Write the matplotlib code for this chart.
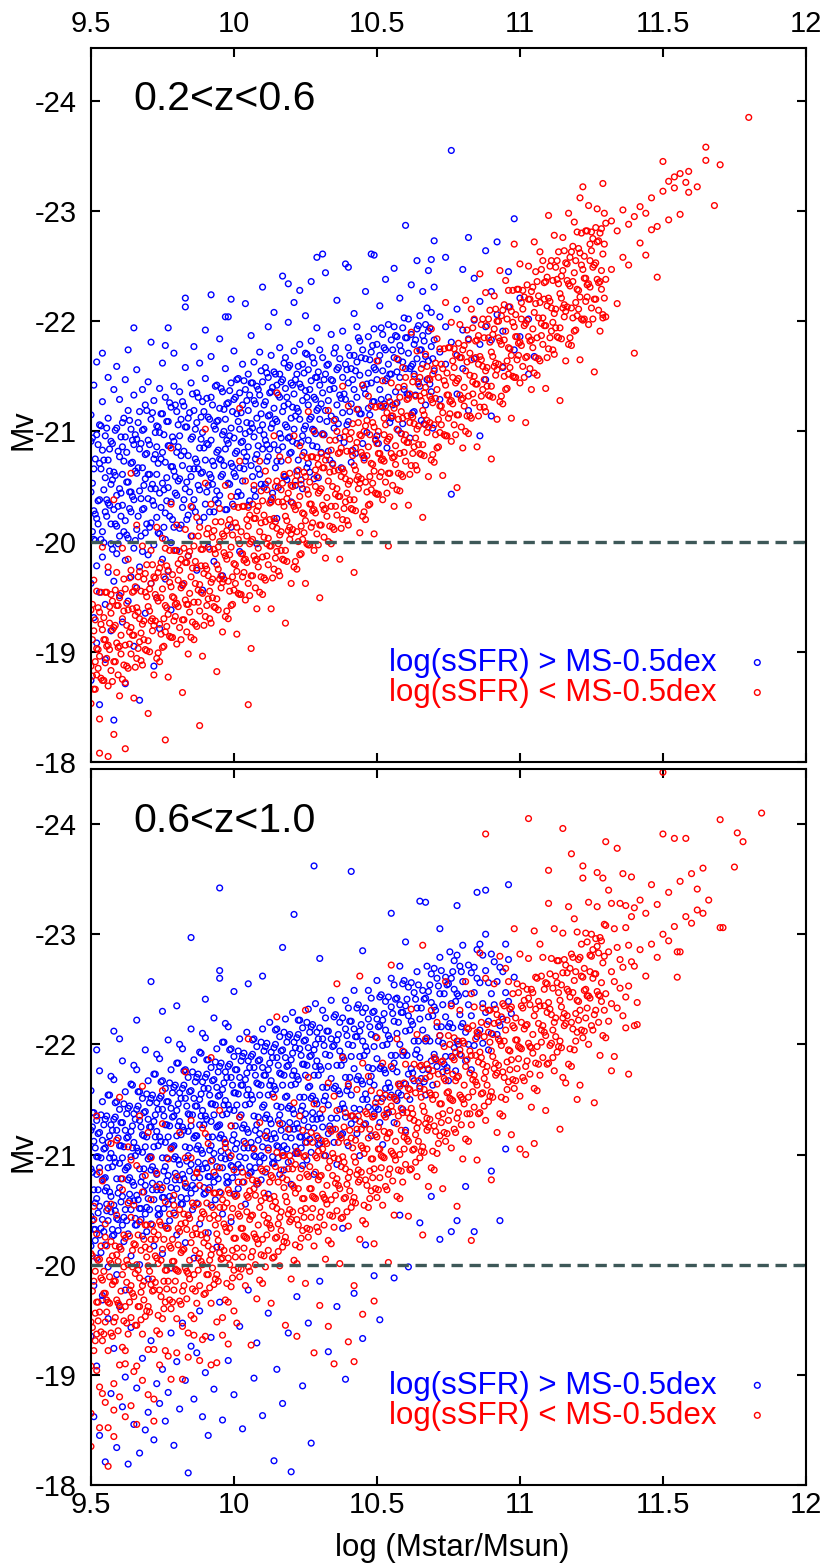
import matplotlib
matplotlib.use('Agg')
import matplotlib.pyplot as plt

plt.rcParams['font.family'] = ['Liberation Sans', 'DejaVu Sans']
plt.rcParams['axes.unicode_minus'] = False

x_ticks = [9.5, 10, 10.5, 11, 11.5, 12]
x_tick_labels = ['9.5', '10', '10.5', '11', '11.5', '12']
y_ticks = [-24, -23, -22, -21, -20, -19, -18]
y_tick_labels = ['-24', '-23', '-22', '-21', '-20', '-19', '-18']
panel_labels = ['0.2<z<0.6', '0.6<z<1.0']
series_labels = ['log(sSFR) > MS-0.5dex', 'log(sSFR) < MS-0.5dex']
x_label = 'log (Mstar/Msun)'
y_label = 'Mv'
mv_limit = -20

# (log Mstar, [Mv, ...]) columns
top_sf = [
(9.50,[-20.45,-19.62,-21.15,-18.74,-20.91]),(9.51,[-20.66,-19.31,-21.42,-20.02,-20.28]),
(9.52,[-20.21,-20.97,-19.78,-21.63,-19.08]),(9.53,[-20.38,-21.06,-19.54,-20.71,-18.52]),
(9.54,[-20.83,-20.09,-21.27,-19.86,-21.71]),(9.55,[-20.58,-19.43,-20.96,-20.27,-18.93]),
(9.56,[-21.12,-20.35,-19.72,-20.74,-21.49]),(9.57,[-20.16,-20.91,-19.98,-20.52,-19.19]),
(9.58,[-20.63,-21.38,-19.64,-20.29,-18.38]),(9.59,[-20.42,-21.03,-19.89,-21.59,-20.14]),
(9.60,[-20.77,-20.05,-19.51,-21.29,-20.48]),(9.61,[-20.33,-20.86,-19.27,-21.08,-20.61]),
(9.62,[-20.95,-20.19,-21.47,-19.83,-18.71]),(9.63,[-20.54,-21.19,-20.03,-19.46,-21.74]),
(9.64,[-20.71,-20.27,-21.02,-19.68,-20.45]),(9.65,[-20.38,-21.33,-20.88,-19.94,-19.05,-21.94]),
(9.66,[-20.62,-20.11,-21.56,-20.93,-19.58]),(9.67,[-20.84,-20.46,-21.18,-19.77,-18.56]),
(9.68,[-20.29,-21.01,-20.67,-19.91,-21.38]),(9.69,[-20.57,-21.24,-20.08,-19.35,-20.79]),
(9.70,[-20.92,-20.39,-21.45,-19.88,-20.61]),(9.71,[-20.48,-21.11,-20.17,-19.62,-21.81]),
(9.72,[-20.75,-20.33,-21.28,-19.97,-18.87]),(9.73,[-20.61,-21.05,-20.22,-19.49,-20.86]),
(9.74,[-20.99,-20.44,-21.39,-20.07,-19.21]),(9.75,[-20.53,-21.16,-20.81,-19.84,-21.62]),
(9.76,[-20.72,-20.26,-21.31,-20.02,-19.66,-21.78]),(9.77,[-20.87,-20.49,-21.09,-19.73,-21.94]),
(9.78,[-20.36,-21.22,-20.68,-19.99,-19.38]),(9.79,[-20.64,-21.41,-20.13,-20.91,-21.71]),
(9.80,[-20.81,-20.42,-21.18,-19.92]),(9.81,[-20.96,-20.57,-21.36,-20.12]),
(9.82,[-20.69,-21.27,-20.31,-19.61]),(9.83,[-21.04,-20.48,-21.58,-22.21,-22.13]),
(9.84,[-20.78,-20.24,-21.12,-19.87]),(9.85,[-20.93,-21.44,-20.59,-20.05]),
(9.86,[-20.66,-21.19,-20.38,-21.77]),(9.87,[-21.08,-20.72,-21.35,-19.74]),
(9.88,[-20.85,-20.47,-21.62,-20.18]),(9.89,[-20.99,-21.27,-20.63,-19.56]),
(9.90,[-20.74,-21.48,-20.34,-21.92]),(9.91,[-21.13,-20.88,-20.51,-19.95]),
(9.92,[-20.92,-21.31,-20.58,-21.68,-22.24]),(9.93,[-21.05,-20.69,-20.27,-19.82]),
(9.94,[-20.81,-21.42,-21.09,-20.46]),(9.95,[-21.21,-20.75,-20.42,-21.84]),
(9.96,[-20.97,-21.36,-20.61,-19.69]),(9.97,[-21.11,-20.84,-21.57,-20.29,-22.04]),
(9.98,[-20.89,-21.26,-20.53,-22.04]),(9.99,[-21.03,-20.71,-21.44,-20.13,-22.20]),
(10.00,[-20.94,-21.29,-20.62,-21.73]),(10.01,[-21.16,-20.82,-21.47,-20.41]),
(10.02,[-21.02,-20.67,-21.35,-19.91]),(10.03,[-21.24,-20.91,-21.61,-20.55]),
(10.04,[-20.98,-21.38,-20.73,-22.16]),(10.05,[-21.19,-20.86,-21.52,-20.33]),
(10.06,[-21.07,-21.44,-20.69,-21.87]),(10.07,[-21.28,-20.95,-21.63,-20.47]),
(10.08,[-21.12,-20.79,-21.41,-19.98]),(10.09,[-21.33,-21.01,-21.72,-20.61]),
(10.10,[-21.06,-21.45,-20.84,-22.31]),(10.11,[-21.27,-20.92,-21.58,-20.52]),
(10.12,[-21.14,-21.49,-20.77,-21.95]),(10.13,[-21.36,-21.03,-21.69,-20.38]),
(10.14,[-21.21,-20.88,-21.54,-22.08]),(10.15,[-21.09,-21.42,-20.73,-20.21]),
(10.16,[-21.31,-20.98,-21.76,-21.52]),(10.17,[-21.18,-21.47,-20.86,-22.41]),
(10.18,[-21.39,-21.06,-21.67,-20.59]),(10.19,[-21.25,-20.94,-21.58,-21.99,-22.34]),
(10.20,[-21.12,-21.44,-20.81,-20.36]),(10.21,[-21.34,-21.02,-21.73,-22.17]),
(10.22,[-21.21,-21.52,-20.89,-20.64]),(10.23,[-21.43,-21.11,-21.79,-22.28]),
(10.24,[-21.28,-20.96,-21.61,-20.48]),(10.25,[-21.37,-21.05,-21.71,-22.05]),
(10.26,[-21.24,-21.56,-20.92,-20.71]),(10.27,[-21.46,-21.13,-21.82,-22.36]),
(10.28,[-21.31,-21.62,-21.01,-20.57]),(10.29,[-21.19,-21.49,-20.86,-21.94,-22.58]),
(10.30,[-21.42,-21.11,-21.74]),(10.31,[-21.35,-21.67,-20.98,-22.61]),
(10.32,[-21.52,-21.19,-22.44]),(10.33,[-21.28,-21.61,-20.82]),
(10.34,[-21.47,-21.14,-21.88]),(10.35,[-21.39,-21.71,-21.03]),
(10.36,[-21.56,-21.24,-22.19]),(10.37,[-21.33,-21.66,-20.94]),
(10.38,[-21.49,-21.17,-21.91]),(10.39,[-21.61,-21.29,-22.52]),
(10.40,[-21.44,-21.76,-21.09,-22.49]),(10.41,[-21.57,-21.25,-20.72]),
(10.42,[-21.38,-21.69,-22.07]),(10.43,[-21.63,-21.31,-21.95]),
(10.44,[-21.51,-21.82,-21.16]),(10.45,[-21.42,-21.74,-20.89]),
(10.46,[-21.66,-21.34,-22.27]),(10.47,[-21.53,-21.86,-21.21]),
(10.48,[-21.72,-21.44,-22.61]),(10.49,[-21.58,-21.27,-21.93,-22.60]),
(10.50,[-21.47,-21.79,-20.96]),(10.51,[-21.69,-21.38,-22.14]),
(10.52,[-21.55,-21.88,-21.22]),(10.53,[-21.74,-21.46,-22.38]),
(10.54,[-21.61,-21.31,-21.97]),(10.55,[-21.83,-21.52,-21.12]),
(10.56,[-21.67,-21.95,-22.48]),(10.57,[-21.54,-21.86,-21.26]),
(10.58,[-21.78,-21.49,-22.21]),(10.59,[-21.63,-21.94,-21.07]),
(10.60,[-21.85,-21.57,-22.87]),(10.61,[-21.71,-22.02,-21.33]),
(10.62,[-21.59,-21.88,-22.33]),(10.63,[-21.79,-21.52,-21.18]),
(10.64,[-21.93,-21.66,-22.55]),(10.65,[-21.74,-22.05,-21.41]),
(10.66,[-21.87,-21.61,-22.27]),(10.67,[-21.68,-21.97,-21.24]),
(10.68,[-21.91,-21.64,-22.46]),(10.69,[-21.77,-22.08,-21.36,-22.56]),
(10.70,[-21.83,-21.55,-22.31,-22.73]),(10.72,[-21.72,-22.04,-21.29]),
(10.74,[-21.95,-21.61,-22.58]),(10.76,[-21.81,-23.55,-20.43]),
(10.78,[-21.69,-22.11,-21.34]),(10.80,[-21.92,-21.57,-22.47]),
(10.82,[-21.84,-22.76,-21.19]),(10.84,[-22.01,-21.66,-22.39]),
(10.86,[-21.79,-22.18,-20.96]),(10.88,[-21.95,-22.64,-21.47]),
(10.90,[-21.83,-22.27,-21.14]),(10.92,[-22.06,-22.72]),
(10.94,[-21.91,-21.58]),(10.96,[-22.13,-22.45]),
(10.98,[-21.74,-22.93]),(11.00,[-21.86,-22.21]),
(11.03,[-22.02,-21.52]),(11.05,[-21.68]),
]

top_sf_dense = [
(9.505,[-20.53,-20.09,-20.94]),(9.515,[-20.25,-20.75,-20.01]),(9.525,[-20.88,-20.37,-20.16]),
(9.535,[-20.02,-20.66,-21.05]),(9.545,[-20.74,-19.99,-20.47]),(9.555,[-20.38,-21.03,-20.23]),
(9.565,[-20.84,-20.33,-20.64]),(9.575,[-19.93,-20.56,-20.89]),(9.585,[-20.60,-20.16,-21.01]),
(9.595,[-20.32,-20.82,-19.98]),(9.605,[-20.95,-20.44,-20.23]),(9.615,[-20.09,-20.73,-21.12]),
(9.625,[-20.81,-20.06,-20.54]),(9.635,[-20.45,-21.10,-20.30]),(9.645,[-20.92,-20.41,-20.72]),
(9.655,[-20.01,-20.64,-20.97]),(9.665,[-20.67,-20.23,-21.08]),(9.675,[-20.39,-20.89,-20.05]),
(9.685,[-21.02,-20.51,-20.30]),(9.695,[-20.16,-20.80,-21.19]),(9.705,[-20.88,-20.13,-20.61]),
(9.715,[-20.52,-21.17,-20.37]),(9.725,[-20.99,-20.48,-20.79]),(9.735,[-20.08,-20.71,-21.04]),
(9.745,[-20.75,-20.31,-21.16]),(9.755,[-20.47,-20.97,-20.13]),(9.765,[-21.09,-20.58,-20.37]),
(9.775,[-20.23,-20.87,-21.26]),(9.785,[-20.95,-20.20,-20.68]),(9.795,[-20.59,-21.24,-20.44]),
(9.805,[-21.06,-20.55,-20.86]),(9.815,[-20.15,-20.78,-21.11]),(9.825,[-20.82,-20.38,-21.23]),
(9.835,[-20.54,-21.04,-20.20]),(9.845,[-21.17,-20.66,-20.45]),(9.855,[-20.31,-20.95,-21.34]),
(9.865,[-21.02,-20.27,-20.75]),(9.875,[-20.66,-21.31,-20.51]),(9.885,[-21.13,-20.62,-20.93]),
(9.895,[-20.22,-20.85,-21.18]),(9.905,[-20.89,-20.45,-21.30]),(9.915,[-20.61,-21.11,-20.27]),
(9.925,[-21.24,-20.73,-20.52]),(9.935,[-20.38,-21.02,-21.41]),(9.945,[-21.10,-20.35,-20.83]),
(9.955,[-20.74,-21.39,-20.59]),(9.965,[-21.20,-20.69,-21.00]),(9.975,[-20.29,-20.92,-21.25]),
(9.985,[-20.96,-20.52,-21.37]),(9.995,[-20.68,-21.18,-20.34]),(10.005,[-21.31,-20.80,-20.59]),
(10.015,[-20.45,-21.09,-21.48]),(10.025,[-21.17,-20.42,-20.90]),(10.035,[-20.81,-21.46,-20.66]),
(10.045,[-21.28,-20.77,-21.08]),(10.055,[-20.37,-21.00,-21.33]),(10.065,[-21.03,-20.59,-21.44]),
(10.075,[-20.75,-21.25,-20.41]),(10.085,[-21.38,-20.87,-20.66]),(10.095,[-20.52,-21.16,-21.55]),
(10.105,[-21.24,-20.49,-20.97]),(10.115,[-20.88,-21.53,-20.73]),(10.125,[-21.35,-20.84,-21.15]),
(10.135,[-20.44,-21.07,-21.40]),(10.145,[-21.11,-20.67,-21.52]),(10.155,[-20.83,-21.33,-20.49]),
(10.165,[-21.45,-20.94,-20.73]),(10.175,[-20.59,-21.23,-21.62]),(10.185,[-21.31,-20.56,-21.04]),
(10.195,[-20.95,-21.60,-20.80]),(10.205,[-21.42,-20.91,-21.22]),(10.215,[-20.51,-21.14,-21.47]),
(10.225,[-21.18,-20.74,-21.59]),(10.235,[-20.90,-21.40,-20.56]),(10.245,[-21.53,-21.02,-20.81]),
(10.255,[-20.67,-21.31,-21.70]),(10.265,[-21.38,-20.63,-21.11]),(10.275,[-21.02,-21.67,-20.87]),
(10.285,[-21.49,-20.98,-21.29]),(10.295,[-20.58,-21.21,-21.54]),
(10.305,[-21.25,-20.81]),(10.315,[-20.97,-21.47]),(10.325,[-21.60,-21.09]),(10.335,[-20.74,-21.38]),
(10.345,[-21.46,-20.71]),(10.355,[-21.11,-21.76]),(10.365,[-21.58,-21.07]),(10.375,[-20.67,-21.30]),
(10.385,[-21.34,-20.90]),(10.395,[-21.06,-21.56]),(10.405,[-21.69,-21.18]),(10.415,[-20.83,-21.47]),
(10.425,[-21.55,-20.80]),(10.435,[-21.20,-21.85]),(10.445,[-21.67,-21.16]),(10.455,[-20.76,-21.39]),
(10.465,[-21.43,-20.99]),(10.475,[-21.15,-21.65]),(10.485,[-21.78,-21.27]),(10.495,[-20.92,-21.56]),
(10.505,[-21.64,-20.89]),(10.515,[-21.29,-21.94]),(10.525,[-21.76,-21.25]),(10.535,[-20.85,-21.48]),
(10.545,[-21.52,-21.08]),(10.555,[-21.24,-21.74]),(10.565,[-21.87,-21.36]),(10.575,[-21.01,-21.65]),
(10.585,[-21.73,-20.98]),(10.595,[-21.38,-22.03]),(10.605,[-21.85,-21.34]),(10.615,[-20.94,-21.57]),
(10.625,[-21.61,-21.17]),(10.635,[-21.33,-21.83]),(10.645,[-21.96,-21.45]),(10.655,[-21.10,-21.74]),
(10.665,[-21.82,-21.07]),(10.675,[-21.47,-22.12]),(10.685,[-21.94,-21.43]),(10.695,[-21.03,-21.66]),
]

top_q = [
(9.50,[-18.87,-19.38,-18.53]),(9.51,[-19.19,-18.66,-19.65]),(9.52,[-19.03,-19.55,-18.79]),
(9.53,[-19.36,-18.96,-18.39,-18.08]),(9.54,[-18.74,-19.20,-19.95]),(9.55,[-19.54,-18.90,-19.11]),
(9.56,[-19.06,-19.77,-18.69,-18.05]),(9.57,[-19.35,-18.83,-19.52]),(9.58,[-18.91,-19.22,-18.25,-20.38]),
(9.59,[-19.72,-19.08,-19.42]),(9.60,[-18.60,-19.49,-19.05]),(9.61,[-19.30,-18.75,-19.94]),
(9.62,[-19.06,-19.57,-18.72,-18.12]),(9.63,[-19.38,-18.85,-19.84]),(9.64,[-19.22,-19.74,-18.98,-20.62]),
(9.65,[-19.55,-19.15,-18.58]),(9.66,[-18.94,-19.40,-20.15]),(9.67,[-19.73,-19.09,-19.30]),
(9.68,[-19.25,-19.96,-18.88]),(9.69,[-19.54,-19.02,-19.71]),(9.70,[-19.10,-19.41,-18.44]),
(9.71,[-19.92,-19.28,-19.62]),(9.72,[-18.79,-19.68,-19.24]),(9.73,[-19.49,-18.94,-20.13]),
(9.74,[-19.25,-19.76,-18.91]),(9.75,[-19.57,-19.04,-20.03]),(9.76,[-19.42,-19.94,-19.18,-18.20]),
(9.77,[-19.74,-19.34,-18.77]),(9.78,[-19.13,-19.59,-20.34,-20.85]),(9.79,[-19.92,-19.28,-19.49]),
(9.80,[-19.44,-20.15,-19.07]),(9.81,[-19.74,-19.22,-19.91]),(9.82,[-19.29,-19.60,-18.63]),
(9.83,[-20.11,-19.47,-19.81]),(9.84,[-18.98,-19.87,-19.43]),(9.85,[-19.68,-19.13,-20.32]),
(9.86,[-19.45,-19.96,-19.11]),(9.87,[-19.76,-19.23,-20.22]),(9.88,[-19.61,-20.13,-19.37,-18.33]),
(9.89,[-19.93,-19.53,-18.96]),(9.90,[-19.32,-19.78,-20.53,-21.02]),(9.91,[-20.12,-19.48,-19.69]),
(9.92,[-19.63,-20.34,-19.26]),(9.93,[-19.93,-19.41,-20.10]),(9.94,[-19.48,-19.79,-18.82]),
(9.95,[-20.30,-19.66,-20.00]),(9.96,[-19.18,-20.07,-19.63]),(9.97,[-19.87,-19.32,-20.51]),
(9.98,[-19.64,-20.15,-19.30]),(9.99,[-19.95,-19.42,-20.41]),(10.00,[-19.80,-20.32,-19.56]),
(10.01,[-20.13,-19.73,-19.16]),(10.02,[-19.52,-19.98,-20.73,-21.21]),(10.03,[-20.32,-19.68,-19.89]),
(10.04,[-19.84,-20.55,-19.47]),(10.05,[-20.14,-19.62,-20.31,-18.52]),(10.06,[-19.69,-20.00,-19.03]),
(10.07,[-20.51,-19.87,-20.21]),(10.08,[-19.39,-20.28,-19.84]),(10.09,[-20.09,-19.54,-20.73]),
(10.10,[-19.86,-20.37,-19.52]),(10.11,[-20.18,-19.65,-20.64]),(10.12,[-20.03,-20.55,-19.79]),
(10.13,[-20.36,-19.96,-19.39]),(10.14,[-19.75,-20.21,-20.96]),(10.15,[-20.55,-19.91,-20.12,-21.35]),
(10.16,[-20.06,-20.77,-19.69]),(10.17,[-20.36,-19.84,-20.53]),(10.18,[-19.92,-20.23,-19.26]),
(10.19,[-20.74,-20.10,-20.44]),(10.20,[-19.62,-20.51,-20.07]),(10.21,[-20.32,-19.77,-20.96]),
(10.22,[-20.09,-20.60,-19.75]),(10.23,[-20.41,-19.88,-20.87]),(10.24,[-20.26,-20.78,-20.02]),
(10.25,[-20.59,-20.19,-19.62]),(10.26,[-19.97,-20.43,-21.18]),(10.27,[-20.77,-20.13,-20.34]),
(10.28,[-20.29,-21.00,-19.92]),(10.29,[-20.59,-20.07,-20.76]),(10.30,[-20.15,-20.46,-19.49]),
(10.31,[-20.97,-20.33,-20.67]),(10.32,[-19.85,-20.74,-20.30]),(10.33,[-20.55,-20.00,-21.19]),
(10.34,[-20.32,-20.83,-19.98]),(10.35,[-20.64,-20.11,-21.10]),(10.36,[-20.48,-21.00,-20.24]),
(10.37,[-20.81,-20.41,-19.84]),(10.38,[-20.20,-20.66,-21.41]),(10.39,[-21.00,-20.36,-20.57]),
(10.40,[-20.52,-21.23,-20.15]),(10.41,[-20.82,-20.30,-20.99]),(10.42,[-20.38,-20.69,-19.72]),
(10.43,[-21.20,-20.56,-20.90]),(10.44,[-20.08,-20.97,-20.53]),(10.45,[-20.78,-20.23,-21.42]),
(10.46,[-20.54,-21.05,-20.20]),(10.47,[-20.86,-20.33,-21.32]),(10.48,[-20.71,-21.23,-20.47]),
(10.49,[-21.04,-20.64,-20.07]),(10.50,[-20.43,-20.89,-21.64]),(10.51,[-21.23,-20.59,-20.80]),
(10.52,[-20.75,-21.46,-20.38]),(10.53,[-21.06,-20.54,-21.23]),(10.54,[-20.62,-20.93,-19.96]),
(10.55,[-21.44,-20.80,-21.14]),(10.56,[-20.32,-21.21,-20.77]),(10.57,[-21.02,-20.47,-21.66]),
(10.58,[-20.80,-21.31,-20.46]),(10.59,[-21.12,-20.59,-21.58]),(10.60,[-20.97,-21.49,-20.73]),
(10.61,[-21.30,-20.90,-20.33]),(10.62,[-20.69,-21.15,-21.90]),(10.63,[-21.50,-20.86,-21.07]),
(10.64,[-21.02,-21.73,-20.65]),(10.65,[-21.32,-20.80,-21.49]),(10.66,[-20.88,-21.19,-20.22]),
(10.67,[-21.70,-21.06,-21.40]),(10.68,[-20.59,-21.48,-21.04]),(10.69,[-21.29,-20.74,-21.93]),
(10.70,[-21.06,-21.57,-20.72]),(10.71,[-21.38,-20.85,-21.84]),(10.72,[-21.23,-21.75,-20.99]),
(10.73,[-21.57,-21.17,-20.60]),(10.74,[-20.96,-21.42,-22.17]),(10.75,[-21.76,-21.12,-21.33]),
(10.76,[-21.28,-21.99,-20.91]),(10.77,[-21.58,-21.06,-21.75]),(10.78,[-21.15,-21.46,-20.49]),
(10.79,[-21.97,-21.33,-21.67]),(10.80,[-20.85,-21.74,-21.30]),(10.81,[-21.55,-21.00,-22.19]),
(10.82,[-21.32,-21.83,-20.98]),(10.83,[-21.65,-21.12,-22.11]),(10.84,[-21.50,-22.02,-21.26]),
(10.85,[-21.83,-21.43,-20.86]),(10.86,[-21.22,-21.68,-22.43]),(10.87,[-22.02,-21.38,-21.59]),
(10.88,[-21.55,-22.26,-21.18]),(10.89,[-21.85,-21.33,-22.02]),(10.90,[-21.41,-21.72,-20.75]),
(10.91,[-22.23,-21.59,-21.93]),(10.92,[-21.11,-22.00,-21.56]),(10.93,[-21.82,-21.27,-22.46]),
(10.94,[-21.59,-22.10,-21.25]),(10.95,[-21.91,-21.38,-22.37]),(10.96,[-21.76,-22.28,-21.52]),
(10.97,[-22.09,-21.69,-21.12]),(10.98,[-21.49,-21.95,-22.70]),(10.99,[-22.29,-21.65,-21.86]),
(11.00,[-21.81,-22.52,-21.44]),(11.01,[-22.11,-21.59,-22.28]),(11.02,[-21.67,-21.98,-21.08]),
(11.03,[-22.50,-21.86,-22.20]),(11.04,[-21.38,-22.27,-21.83]),(11.05,[-22.08,-21.53,-22.72]),
(11.06,[-21.85,-22.36,-21.51]),(11.07,[-22.17,-21.64,-22.63]),(11.08,[-22.03,-22.55,-21.79]),
(11.09,[-22.36,-21.96,-21.39]),(11.10,[-21.75,-22.21,-22.96]),(11.11,[-22.55,-21.91,-22.12]),
(11.12,[-22.07,-22.78,-21.70]),(11.13,[-22.38,-21.86,-22.55]),(11.14,[-21.94,-22.25,-21.28]),
(11.15,[-22.76,-22.12,-22.46]),(11.16,[-21.64,-22.53,-22.09]),(11.17,[-22.34,-21.79,-22.98]),
(11.18,[-22.12,-22.63,-21.78]),(11.19,[-22.44,-21.91,-22.90]),(11.20,[-22.29,-22.81,-22.05]),
(11.21,[-22.62,-22.22,-21.65,-23.12]),(11.22,[-22.01,-22.47,-23.22]),(11.23,[-22.82,-22.18,-22.39]),
(11.24,[-22.34,-23.05,-21.97]),(11.25,[-22.64,-22.12,-22.81]),(11.26,[-22.20,-22.51,-21.54]),
(11.27,[-23.02,-22.38,-22.72]),(11.28,[-21.91,-22.80,-22.36]),(11.29,[-22.61,-22.06,-23.25,-22.03]),
(11.30,[-22.38,-22.89,-22.04]),(11.32,[-22.47,-22.91]),(11.34,[-22.82,-22.16]),
(11.36,[-22.58,-23.01]),(11.38,[-22.88,-22.51]),(11.40,[-22.95,-21.71]),
(11.42,[-22.71,-23.04]),(11.44,[-22.98,-22.60]),(11.46,[-23.12,-22.83]),
(11.48,[-22.86,-22.40]),(11.50,[-23.18,-23.45]),(11.52,[-22.92,-23.27]),
(11.54,[-23.21,-23.31]),(11.56,[-23.34,-22.97]),(11.58,[-23.26]),
(11.59,[-23.36,-23.17]),(11.62,[-23.22]),(11.65,[-23.58,-23.46]),
(11.68,[-23.05]),(11.70,[-23.42]),(11.80,[-23.85]),
]

top_q_dense = [
(9.505,[-19.11,-18.78,-19.43]),(9.515,[-18.91,-19.29,-18.66]),(9.525,[-19.40,-19.02,-18.85]),
(9.535,[-18.76,-19.25,-19.54]),(9.545,[-19.31,-18.74,-19.11]),(9.555,[-19.05,-19.54,-18.94]),
(9.565,[-19.41,-19.02,-19.26]),(9.575,[-18.73,-19.20,-19.46]),(9.585,[-19.24,-18.91,-19.56]),
(9.595,[-19.04,-19.42,-18.79]),(9.605,[-19.53,-19.15,-18.98]),(9.615,[-18.88,-19.37,-19.66]),
(9.625,[-19.44,-18.87,-19.24]),(9.635,[-19.18,-19.67,-19.07]),(9.645,[-19.54,-19.15,-19.39]),
(9.655,[-18.86,-19.33,-19.59]),(9.665,[-19.36,-19.03,-19.68]),(9.675,[-19.17,-19.55,-18.92]),
(9.685,[-19.66,-19.28,-19.11]),(9.695,[-19.01,-19.50,-19.79]),(9.705,[-19.57,-19.00,-19.37]),
(9.715,[-19.30,-19.79,-19.19]),(9.725,[-19.67,-19.28,-19.52]),(9.735,[-18.99,-19.46,-19.72]),
(9.745,[-19.49,-19.16,-19.81]),(9.755,[-19.30,-19.68,-19.05]),(9.765,[-19.78,-19.40,-19.23]),
(9.775,[-19.14,-19.63,-19.92]),(9.785,[-19.70,-19.13,-19.50]),(9.795,[-19.43,-19.92,-19.32]),
(9.805,[-19.80,-19.41,-19.65]),(9.815,[-19.11,-19.58,-19.84]),(9.825,[-19.62,-19.29,-19.94]),
(9.835,[-19.43,-19.81,-19.18]),(9.845,[-19.91,-19.53,-19.36]),(9.855,[-19.27,-19.76,-20.05]),
(9.865,[-19.82,-19.25,-19.62]),(9.875,[-19.56,-20.05,-19.45]),(9.885,[-19.93,-19.54,-19.78]),
(9.895,[-19.24,-19.71,-19.97]),(9.905,[-19.75,-19.42,-20.07]),(9.915,[-19.55,-19.93,-19.30]),
(9.925,[-20.04,-19.66,-19.49]),(9.935,[-19.40,-19.89,-20.18]),(9.945,[-19.95,-19.38,-19.75]),
(9.955,[-19.69,-20.18,-19.58]),(9.965,[-20.05,-19.66,-19.90]),(9.975,[-19.37,-19.84,-20.10]),
(9.985,[-19.88,-19.55,-20.20]),(9.995,[-19.68,-20.06,-19.43]),(10.005,[-20.17,-19.79,-19.62]),
(10.015,[-19.53,-20.02,-20.31]),(10.025,[-20.09,-19.52,-19.89]),(10.035,[-19.83,-20.32,-19.72]),
(10.045,[-20.20,-19.81,-20.05]),(10.055,[-19.51,-19.98,-20.24]),(10.065,[-20.02,-19.69,-20.34]),
(10.075,[-19.83,-20.21,-19.58]),(10.085,[-20.32,-19.94,-19.77]),(10.095,[-19.68,-20.17,-20.46]),
(10.105,[-20.24,-19.67,-20.04]),(10.115,[-19.98,-20.47,-19.87]),(10.125,[-20.35,-19.96,-20.20]),
(10.135,[-19.67,-20.14,-20.40]),(10.145,[-20.18,-19.85,-20.50]),(10.155,[-19.98,-20.36,-19.73]),
(10.165,[-20.47,-20.09,-19.92]),(10.175,[-19.83,-20.32,-20.61]),(10.185,[-20.39,-19.82,-20.19]),
(10.195,[-20.13,-20.62,-20.02]),(10.205,[-20.50,-20.11,-20.35]),(10.215,[-19.82,-20.29,-20.55]),
(10.225,[-20.33,-20.00,-20.65]),(10.235,[-20.14,-20.52,-19.89]),(10.245,[-20.63,-20.25,-20.08]),
(10.255,[-19.98,-20.47,-20.76]),(10.265,[-20.54,-19.97,-20.34]),(10.275,[-20.28,-20.77,-20.17]),
(10.285,[-20.65,-20.26,-20.50]),(10.295,[-19.97,-20.44,-20.70]),(10.305,[-20.48,-20.15,-20.80]),
(10.315,[-20.29,-20.67,-20.04]),(10.325,[-20.78,-20.40,-20.23]),(10.335,[-20.14,-20.63,-20.92]),
(10.345,[-20.70,-20.13,-20.50]),(10.355,[-20.43,-20.92,-20.32]),(10.365,[-20.80,-20.41,-20.65]),
(10.375,[-20.12,-20.59,-20.85]),(10.385,[-20.63,-20.30,-20.95]),(10.395,[-20.44,-20.82,-20.19]),
(10.405,[-20.93,-20.55,-20.38]),(10.415,[-20.29,-20.78,-21.07]),(10.425,[-20.85,-20.28,-20.65]),
(10.435,[-20.59,-21.08,-20.48]),(10.445,[-20.96,-20.57,-20.81]),(10.455,[-20.27,-20.74,-21.00]),
(10.465,[-20.78,-20.45,-21.10]),(10.475,[-20.59,-20.97,-20.34]),(10.485,[-21.08,-20.70,-20.53]),
(10.495,[-20.44,-20.93,-21.22]),(10.505,[-21.00,-20.43,-20.80]),(10.515,[-20.74,-21.23,-20.63]),
(10.525,[-21.12,-20.73,-20.97]),(10.535,[-20.44,-20.91,-21.17]),(10.545,[-20.95,-20.62,-21.27]),
(10.555,[-20.76,-21.14,-20.51]),(10.565,[-21.25,-20.87,-20.70]),(10.575,[-20.62,-21.11,-21.40]),
(10.585,[-21.18,-20.61,-20.98]),(10.595,[-20.92,-21.41,-20.81]),(10.605,[-21.29,-20.90,-21.14]),
(10.615,[-20.61,-21.08,-21.34]),(10.625,[-21.13,-20.80,-21.45]),(10.635,[-20.94,-21.32,-20.69]),
(10.645,[-21.43,-21.05,-20.88]),(10.655,[-20.79,-21.28,-21.57]),(10.665,[-21.35,-20.78,-21.15]),
(10.675,[-21.10,-21.59,-20.99]),(10.685,[-21.47,-21.08,-21.32]),(10.695,[-20.79,-21.26,-21.52]),
(10.705,[-21.30,-20.97,-21.62]),(10.715,[-21.11,-21.49,-20.86]),(10.725,[-21.61,-21.23,-21.06]),
(10.735,[-20.97,-21.46,-21.75]),(10.745,[-21.53,-20.96,-21.33]),(10.755,[-21.27,-21.76,-21.16]),
(10.765,[-21.64,-21.25,-21.49]),(10.775,[-20.97,-21.44,-21.70]),(10.785,[-21.48,-21.15,-21.80]),
(10.795,[-21.29,-21.67,-21.04]),(10.805,[-21.78,-21.40,-21.23]),(10.815,[-21.14,-21.63,-21.92]),
(10.825,[-21.71,-21.14,-21.51]),(10.835,[-21.45,-21.94,-21.34]),(10.845,[-21.82,-21.43,-21.67]),
(10.855,[-21.14,-21.61,-21.87]),(10.865,[-21.65,-21.32,-21.97]),(10.875,[-21.47,-21.85,-21.22]),
(10.885,[-21.96,-21.58,-21.41]),(10.895,[-21.32,-21.81,-22.10]),(10.905,[-21.88,-21.31,-21.68]),
(10.915,[-21.62,-22.11,-21.51]),(10.925,[-22.00,-21.61,-21.85]),(10.935,[-21.32,-21.79,-22.05]),
(10.945,[-21.83,-21.50,-22.15]),(10.955,[-21.64,-22.02,-21.39]),(10.965,[-22.13,-21.75,-21.58]),
(10.975,[-21.50,-21.99,-22.28]),(10.985,[-22.06,-21.49,-21.86]),(10.995,[-21.80,-22.29,-21.69]),
(11.005,[-22.17,-21.78,-22.02]),(11.015,[-21.49,-21.96,-22.22]),(11.025,[-22.01,-21.68,-22.33]),
(11.035,[-21.82,-22.20,-21.57]),(11.045,[-22.31,-21.93,-21.76]),(11.055,[-21.67,-22.16,-22.45]),
(11.065,[-22.23,-21.66,-22.03]),(11.075,[-21.98,-22.47,-21.87]),(11.085,[-22.35,-21.96,-22.20]),
(11.095,[-21.67,-22.14,-22.40]),(11.105,[-22.18,-21.85,-22.50]),(11.115,[-21.99,-22.37,-21.74]),
(11.125,[-22.49,-22.11,-21.94]),(11.135,[-21.85,-22.34,-22.63]),(11.145,[-22.41,-21.84,-22.21]),
(11.155,[-22.15,-22.64,-22.04]),(11.165,[-22.52,-22.13,-22.37]),(11.175,[-21.85,-22.32,-22.58]),
(11.185,[-22.36,-22.03,-22.68]),(11.195,[-22.17,-22.55,-21.92]),(11.205,[-22.66,-22.28,-22.11]),
(11.215,[-22.02,-22.51,-22.80]),(11.225,[-22.59,-22.02,-22.39]),(11.235,[-22.33,-22.82,-22.22]),
(11.245,[-22.70,-22.31,-22.55]),(11.255,[-22.02,-22.49,-22.75]),(11.265,[-22.53,-22.20,-22.85]),
(11.275,[-22.35,-22.73,-22.10]),(11.285,[-22.84,-22.46,-22.29]),(11.295,[-22.21,-22.70,-22.98]),
]

bot_sf = [
(9.50,[-20.87,-20.44,-21.22,-20.17,-21.58,-19.35]),(9.51,[-20.68,-21.12,-20.32,-21.38,-19.81,-18.62]),
(9.52,[-20.98,-20.60,-21.31,-20.06,-20.82,-19.08,-21.95]),(9.53,[-20.53,-20.88,-20.27,-21.20,-21.76,-18.45]),
(9.54,[-21.13,-20.77,-20.41,-21.48,-19.68,-19.72]),(9.55,[-20.67,-21.06,-20.18,-21.32,-20.79,-18.21]),
(9.56,[-20.88,-20.40,-21.11,-19.98,-21.54,-19.51]),(9.57,[-20.48,-21.01,-21.27,-20.62,-21.71,-18.83]),
(9.58,[-20.97,-20.54,-21.32,-20.27,-21.68,-19.24,-22.12]),(9.59,[-20.78,-21.22,-20.42,-21.48,-19.91,-18.34]),
(9.60,[-21.08,-20.70,-21.41,-20.16,-20.92,-19.62,-22.05]),(9.61,[-20.62,-20.97,-20.36,-21.29,-21.85,-18.71]),
(9.62,[-21.22,-20.86,-20.50,-21.57,-19.77,-18.98]),(9.63,[-20.77,-21.16,-20.28,-21.42,-20.89,-18.19]),
(9.64,[-20.98,-20.50,-21.21,-20.08,-21.64,-19.43]),(9.65,[-20.58,-21.11,-21.37,-20.72,-21.81,-18.55]),
(9.66,[-21.06,-20.63,-21.41,-20.36,-21.77,-18.88,-22.22]),(9.67,[-20.87,-21.31,-20.51,-21.57,-20.00,-18.29]),
(9.68,[-21.18,-20.80,-21.51,-20.26,-21.02,-19.15]),(9.69,[-20.72,-21.07,-20.46,-21.39,-21.95,-18.50]),
(9.70,[-21.32,-20.96,-20.60,-21.67,-19.87,-18.66]),(9.71,[-20.86,-21.25,-20.37,-21.51,-20.98,-19.31,-22.57]),
(9.72,[-21.07,-20.59,-21.30,-20.17,-21.73,-18.41]),(9.73,[-20.68,-21.21,-21.47,-20.82,-21.91,-18.92]),
(9.74,[-21.16,-20.73,-21.51,-20.46,-21.87,-18.74]),(9.75,[-20.97,-21.41,-20.61,-21.67,-20.10,-19.05,-22.30]),
(9.76,[-21.27,-20.89,-21.60,-20.35,-21.11,-18.58]),(9.77,[-20.81,-21.16,-20.55,-21.48,-22.04,-18.84]),
(9.78,[-21.42,-21.06,-20.70,-21.77,-19.97,-19.38]),(9.79,[-20.96,-21.35,-20.47,-21.61,-21.08,-18.36]),
(9.80,[-21.17,-20.69,-21.40,-20.27,-21.83,-19.12,-22.35]),(9.81,[-20.77,-21.30,-21.56,-20.91,-22.00,-18.69]),
(9.82,[-21.25,-20.82,-21.60,-20.55,-21.96,-19.47]),(9.83,[-21.07,-21.51,-20.71,-21.77,-20.20,-18.95]),
(9.84,[-21.37,-20.99,-21.70,-20.45,-21.21,-18.11]),(9.85,[-20.91,-21.26,-20.65,-21.58,-22.14,-19.26,-22.97]),
(9.86,[-21.51,-21.15,-20.79,-21.86,-20.06,-18.78]),(9.87,[-21.05,-21.44,-20.56,-21.70,-21.17,-19.20]),
(9.88,[-21.27,-20.79,-21.50,-20.37,-21.93,-19.58]),(9.89,[-20.87,-21.40,-21.66,-21.01,-22.10,-18.62]),
(9.90,[-21.35,-20.92,-21.70,-20.65,-22.06,-19.02,-22.41]),(9.91,[-21.16,-21.60,-20.80,-21.86,-20.29,-18.45]),
(9.92,[-21.46,-21.08,-21.79,-20.54,-21.30,-19.34]),(9.93,[-21.01,-21.36,-20.75,-21.68,-22.24,-18.87]),
(9.94,[-21.61,-21.25,-20.89,-21.96,-20.16]),(9.95,[-21.15,-21.54,-20.66,-21.80,-21.27,-19.66,-23.42,-22.60,-22.67]),
(9.96,[-21.36,-20.88,-21.59,-20.46,-22.02,-18.59]),(9.97,[-20.96,-21.49,-21.75,-21.10,-22.19]),
(9.98,[-21.45,-21.02,-21.80,-20.75,-22.16,-19.13]),(9.99,[-21.26,-21.70,-20.90,-21.96,-20.39]),
(10.00,[-21.56,-21.18,-21.89,-20.64,-21.40,-18.82,-22.48]),(10.01,[-21.10,-21.45,-20.84,-21.77]),
(10.02,[-21.70,-21.34,-20.98,-22.05,-19.44]),(10.03,[-21.24,-21.63,-20.75,-21.89,-18.51]),
(10.04,[-21.45,-20.97,-21.68,-20.55]),(10.05,[-21.06,-21.59,-21.85,-21.20,-19.77,-22.55]),
(10.06,[-21.54,-21.11,-21.89,-20.84]),(10.07,[-21.35,-21.79,-20.99,-22.05,-18.97]),
(10.08,[-21.65,-21.27,-21.98,-20.73,-19.29]),(10.09,[-21.19,-21.54,-20.93,-21.86]),
(10.10,[-21.79,-21.43,-21.07,-22.14,-18.63,-22.62]),(10.11,[-21.33,-21.72,-20.84,-21.98]),
(10.12,[-21.54,-21.06,-21.77,-20.64,-19.56]),(10.13,[-21.14,-21.67,-21.93,-21.28]),
(10.14,[-21.62,-21.19,-21.97,-20.92,-18.22]),(10.15,[-21.44,-21.88,-21.08,-22.14,-19.05]),
(10.16,[-21.74,-21.36,-22.07,-20.82]),(10.17,[-21.28,-21.63,-21.02,-21.95,-18.74,-22.88]),
(10.18,[-21.88,-21.52,-21.16,-22.23]),(10.19,[-21.42,-21.81,-20.93,-22.07,-19.38]),
(10.20,[-21.63,-21.15,-21.86,-20.73,-18.12]),(10.21,[-21.23,-21.76,-22.02,-21.37,-23.18]),
(10.22,[-21.71,-21.28,-22.06,-21.01,-19.71]),(10.23,[-21.52,-21.96,-21.16,-22.22]),
(10.24,[-21.82,-21.44,-22.15,-20.90,-18.90]),(10.25,[-21.37,-21.72,-21.11,-22.04]),
(10.26,[-21.97,-21.61,-21.25,-22.32,-19.47]),(10.27,[-21.51,-21.90,-21.02,-22.16,-18.38]),
(10.28,[-21.72,-21.24,-21.95,-20.82,-23.62]),(10.29,[-21.32,-21.85,-22.11,-21.46]),
(10.30,[-21.80,-21.37,-22.15,-21.10,-19.85,-22.78]),(10.31,[-21.61,-22.05,-21.25,-22.31]),
(10.32,[-21.91,-21.53,-22.24,-20.99]),(10.33,[-21.45,-21.80,-21.19,-22.12,-19.21]),
(10.34,[-22.05,-21.69,-21.33,-22.40]),(10.35,[-21.60,-21.99,-21.11,-22.25]),
(10.36,[-21.81,-21.33,-22.04,-20.91,-19.62]),(10.37,[-21.41,-21.94,-22.20,-21.55]),
(10.38,[-21.89,-21.46,-22.24,-21.19,-20.33]),(10.39,[-21.70,-22.14,-21.34,-22.40,-18.96]),
(10.40,[-22.00,-21.62,-22.33,-21.08]),(10.41,[-21.54,-21.89,-21.28,-22.21,-23.57]),
(10.42,[-22.14,-21.78,-21.42,-22.49,-19.74]),(10.43,[-21.68,-22.07,-21.19,-22.33]),
(10.44,[-21.89,-21.41,-22.12,-20.99]),(10.45,[-21.50,-22.03,-22.29,-21.64,-19.33,-22.85]),
(10.46,[-21.98,-21.55,-22.33,-21.28,-20.18]),(10.47,[-21.79,-22.23,-21.43,-22.49]),
(10.48,[-22.09,-21.71,-22.42,-21.17]),(10.49,[-21.63,-21.98,-21.37,-22.30,-19.90]),
(10.50,[-22.23,-21.87,-21.51,-22.58]),(10.51,[-21.78,-22.17,-21.29,-22.43,-19.50]),
(10.52,[-21.99,-21.51,-22.22,-21.09]),(10.53,[-21.60,-22.13,-22.39,-21.74]),
(10.54,[-22.08,-21.65,-22.43,-21.38]),(10.55,[-21.90,-22.34,-21.54,-22.60,-23.19]),
(10.56,[-22.21,-21.83,-22.54,-21.29,-19.88]),(10.57,[-21.75,-22.10,-21.49,-22.42]),
(10.58,[-22.36,-22.00,-21.64,-22.71,-20.45]),(10.59,[-21.90,-22.29,-21.41,-22.55]),
(10.60,[-22.12,-21.64,-22.35,-21.22,-22.93]),(10.61,[-21.73,-22.26,-22.52,-19.98]),
(10.62,[-22.21,-21.78,-22.56]),(10.63,[-22.03,-22.47,-21.67]),
(10.64,[-22.33,-21.95,-22.66]),(10.65,[-21.88,-22.23,-21.62,-23.30,-20.38]),
(10.66,[-22.49,-22.13,-21.77]),(10.67,[-22.03,-22.42,-21.54,-23.29]),
(10.68,[-22.25,-21.77,-22.48]),(10.69,[-21.85,-22.38,-22.64,-20.62]),
(10.70,[-22.34,-21.91,-22.69]),(10.71,[-22.16,-22.60,-21.80]),
(10.72,[-22.46,-22.08,-22.79,-20.23,-23.05]),(10.73,[-22.01,-22.36,-21.75]),
(10.74,[-22.61,-22.25,-21.89]),(10.75,[-22.16,-22.55,-21.67]),
(10.76,[-22.37,-21.89,-22.60,-20.30]),(10.77,[-21.97,-22.50,-22.76]),
(10.78,[-22.46,-22.03,-22.81,-20.40,-23.26]),(10.79,[-22.27,-22.71,-21.91]),
(10.80,[-22.57,-22.19,-22.90]),(10.81,[-22.11,-22.46,-21.85,-20.71]),
(10.82,[-22.72,-22.36,-22.00]),(10.83,[-22.26,-22.65,-21.77]),
(10.84,[-22.47,-21.99,-22.70,-20.30]),(10.85,[-22.07,-22.60,-22.86,-23.38]),
(10.86,[-22.56,-22.13,-22.91]),(10.87,[-22.37,-22.81,-22.01]),
(10.88,[-22.67,-22.29,-23.00,-23.40]),(10.89,[-22.21,-22.56,-21.95]),
(10.90,[-22.82,-22.46,-22.10,-20.85]),(10.91,[-22.36,-22.75]),
(10.92,[-22.57,-22.09]),(10.93,[-22.17,-22.70,-20.40]),
(10.94,[-22.66,-22.23]),(10.95,[-22.47,-22.91,-21.05]),
(10.96,[-22.77,-22.39,-23.45]),(10.97,[-22.28]),(10.98,[-22.61]),
]

bot_sf_dense = [
(9.505,[-20.84,-20.40,-21.25,-21.38]),(9.515,[-20.56,-21.06,-20.22,-20.32]),(9.525,[-21.19,-20.68,-20.47,-20.98]),
(9.535,[-20.33,-20.97,-21.36,-20.11]),(9.545,[-21.05,-20.30,-20.78,-21.27]),(9.555,[-20.70,-21.35,-20.55,-20.49]),
(9.565,[-21.17,-20.66,-20.97,-21.54]),(9.575,[-20.26,-20.89,-21.22,-20.32]),(9.585,[-20.93,-20.49,-21.34,-21.47]),
(9.595,[-20.65,-21.15,-20.31,-20.41]),(9.605,[-21.29,-20.78,-20.57,-21.08]),(9.615,[-20.43,-21.07,-21.46,-20.21]),
(9.625,[-21.15,-20.40,-20.88,-21.37]),(9.635,[-20.79,-21.44,-20.64,-20.58]),(9.645,[-21.26,-20.75,-21.06,-21.63]),
(9.655,[-20.36,-20.99,-21.32,-20.42]),(9.665,[-21.03,-20.59,-21.44,-21.57]),(9.675,[-20.75,-21.25,-20.41,-20.51]),
(9.685,[-21.38,-20.87,-20.66,-21.17]),(9.695,[-20.52,-21.16,-21.55,-20.30]),(9.705,[-21.25,-20.50,-20.98,-21.47]),
(9.715,[-20.89,-21.54,-20.74,-20.68]),(9.725,[-21.36,-20.85,-21.16,-21.73]),(9.735,[-20.45,-21.08,-21.41,-20.51]),
(9.745,[-21.12,-20.68,-21.53,-21.66]),(9.755,[-20.85,-21.35,-20.51,-20.61]),(9.765,[-21.48,-20.97,-20.76,-21.27]),
(9.775,[-20.62,-21.26,-21.65,-20.40]),(9.785,[-21.34,-20.59,-21.07,-21.56]),(9.795,[-20.98,-21.63,-20.83,-20.77]),
(9.805,[-21.46,-20.95,-21.26,-21.83]),(9.815,[-20.55,-21.18,-21.51,-20.61]),(9.825,[-21.22,-20.78,-21.63,-21.76]),
(9.835,[-20.94,-21.44,-20.60,-20.70]),(9.845,[-21.57,-21.06,-20.85,-21.36]),(9.855,[-20.72,-21.36,-21.75,-20.50]),
(9.865,[-21.44,-20.69,-21.17,-21.66]),(9.875,[-21.08,-21.73,-20.93,-20.87]),(9.885,[-21.55,-21.04,-21.35,-21.92]),
(9.895,[-20.64,-21.27,-21.60,-20.70]),(9.905,[-21.32,-20.88,-21.73,-21.86]),(9.915,[-21.04,-21.54,-20.70,-20.80]),
(9.925,[-21.67,-21.16,-20.95,-21.46]),(9.935,[-20.81,-21.45,-21.84,-20.59]),(9.945,[-21.53,-20.78,-21.26,-21.75]),
(9.955,[-21.18,-21.83,-21.03,-20.97]),(9.965,[-21.65,-21.14,-21.45,-22.02]),(9.975,[-20.74,-21.37,-21.70,-20.80]),
(9.985,[-21.41,-20.97,-21.82,-21.95]),(9.995,[-21.13,-21.63,-20.79,-20.89]),(10.005,[-21.77,-21.26,-21.05,-21.56]),
(10.015,[-20.91,-21.55,-21.94,-20.69]),(10.025,[-21.63,-20.88,-21.36,-21.85]),(10.035,[-21.27,-21.92,-21.12,-21.06]),
(10.045,[-21.74,-21.23,-21.54,-22.11]),(10.055,[-20.83,-21.46,-21.79,-20.89]),(10.065,[-21.50,-21.06,-21.91,-22.04]),
(10.075,[-21.22,-21.72,-20.88,-20.98]),(10.085,[-21.85,-21.34,-21.13,-21.64]),(10.095,[-20.99,-21.63,-22.02,-20.77]),
(10.105,[-21.72,-20.97,-21.45,-21.94]),(10.115,[-21.36,-22.01,-21.21,-21.15]),(10.125,[-21.83,-21.32,-21.63,-22.20]),
(10.135,[-20.92,-21.55,-21.88,-20.98]),(10.145,[-21.59,-21.15,-22.00,-22.13]),(10.155,[-21.31,-21.81,-20.97,-21.07]),
(10.165,[-21.94,-21.43,-21.22,-21.73]),(10.175,[-21.08,-21.72,-22.11,-20.86]),(10.185,[-21.80,-21.05,-21.53,-22.02]),
(10.195,[-21.44,-22.09,-21.29,-21.23]),(10.205,[-21.92,-21.41,-21.72,-22.29]),(10.215,[-21.01,-21.64,-21.97,-21.07]),
(10.225,[-21.68,-21.24,-22.09,-22.22]),(10.235,[-21.40,-21.90,-21.06,-21.16]),(10.245,[-22.03,-21.52,-21.31,-21.82]),
(10.255,[-21.17,-21.81,-22.20,-20.95]),(10.265,[-21.89,-21.14,-21.62,-22.11]),(10.275,[-21.53,-22.18,-21.38,-21.32]),
(10.285,[-22.00,-21.49,-21.80,-22.37]),(10.295,[-21.09,-21.72,-22.05,-21.15]),
(10.305,[-21.77,-21.33]),(10.315,[-21.49,-21.99]),(10.325,[-22.12,-21.61]),(10.335,[-21.26,-21.90]),
(10.345,[-21.98,-21.23]),(10.355,[-21.62,-22.27]),(10.365,[-22.09,-21.58]),(10.375,[-21.18,-21.81]),
(10.385,[-21.86,-21.42]),(10.395,[-21.58,-22.08]),(10.405,[-22.21,-21.70]),(10.415,[-21.35,-21.99]),
(10.425,[-22.07,-21.32]),(10.435,[-21.71,-22.36]),(10.445,[-22.18,-21.67]),(10.455,[-21.27,-21.90]),
(10.465,[-21.94,-21.50]),(10.475,[-21.66,-22.16]),(10.485,[-22.29,-21.78]),(10.495,[-21.43,-22.07]),
(10.505,[-22.16,-21.41]),(10.515,[-21.80,-22.45]),(10.525,[-22.28,-21.77]),(10.535,[-21.37,-22.00]),
(10.545,[-22.05,-21.61]),(10.555,[-21.78,-22.28]),(10.565,[-22.41,-21.90]),(10.575,[-21.56,-22.20]),
(10.585,[-22.29,-21.54]),(10.595,[-21.93,-22.58]),(10.605,[-22.41,-21.90]),(10.615,[-21.50,-22.13]),
(10.625,[-22.18,-21.74]),(10.635,[-21.91,-22.41]),(10.645,[-22.54,-22.03]),(10.655,[-21.69,-22.33]),
(10.665,[-22.41,-21.66]),(10.675,[-22.06,-22.71]),(10.685,[-22.54,-22.03]),(10.695,[-21.63,-22.26]),
(10.705,[-22.31,-21.87]),(10.715,[-22.03,-22.53]),(10.725,[-22.67,-22.16]),(10.735,[-21.82,-22.46]),
(10.745,[-22.54,-21.79]),(10.755,[-22.19,-22.84]),(10.765,[-22.66,-22.15]),(10.775,[-21.76,-22.39]),
(10.785,[-22.44,-22.00]),(10.795,[-22.16,-22.66]),
]

bot_q = [
(9.50,[-19.48,-20.10,-19.08,-18.65,-18.35]),(9.51,[-19.85,-19.22,-20.41,-20.53]),
(9.52,[-19.66,-20.28,-19.37,-19.04,-21.35]),(9.53,[-20.05,-19.57,-18.89,-20.84,-18.52]),
(9.54,[-19.31,-19.86,-20.76,-18.83]),(9.55,[-20.25,-19.48,-19.74,-20.37,-18.75]),
(9.56,[-19.66,-20.51,-19.22,-18.52,-18.17]),(9.57,[-20.01,-19.38,-20.21,-20.55,-21.10]),
(9.58,[-19.48,-19.85,-18.68,-18.92,-18.44]),(9.59,[-20.45,-19.68,-20.09,-21.13]),
(9.60,[-19.09,-20.16,-19.63,-18.80,-21.52]),(9.61,[-19.91,-19.25,-20.68,-20.78]),
(9.62,[-19.62,-20.24,-19.22,-19.10,-18.62]),(9.63,[-20.00,-19.37,-20.56,-21.07]),
(9.64,[-19.81,-20.43,-19.52,-18.72,-20.95]),(9.65,[-20.19,-19.71,-19.03,-20.54]),
(9.66,[-19.45,-20.00,-20.90,-19.08,-18.55]),(9.67,[-20.39,-19.62,-19.88,-21.35]),
(9.68,[-19.81,-20.66,-19.37,-18.95,-21.62]),(9.69,[-20.16,-19.53,-20.36,-20.81]),
(9.70,[-19.62,-19.99,-18.82,-19.23,-21.20]),(9.71,[-20.59,-19.82,-20.23,-20.97]),
(9.72,[-19.23,-20.30,-19.77,-18.78,-18.58]),(9.73,[-20.06,-19.40,-20.83,-20.71]),
(9.74,[-19.77,-20.39,-19.37,-19.09]),(9.75,[-20.14,-19.51,-20.70,-21.28,-21.58]),
(9.76,[-19.95,-20.57,-19.66,-19.22]),(9.77,[-20.33,-19.85,-19.17,-20.96]),
(9.78,[-19.60,-20.15,-21.05,-18.96]),(9.79,[-20.54,-19.77,-20.03,-20.63]),
(9.80,[-19.95,-20.80,-19.51,-19.20]),(9.81,[-20.30,-19.67,-20.50,-21.20]),
(9.82,[-19.76,-20.13,-18.96,-19.44]),(9.83,[-20.74,-19.97,-20.38,-20.97,-21.75]),
(9.84,[-19.38,-20.45,-19.92,-19.16]),(9.85,[-20.20,-19.54,-20.97,-21.31]),
(9.86,[-19.91,-20.53,-19.51,-19.36]),(9.87,[-20.28,-19.65,-20.84,-20.83]),
(9.88,[-20.10,-20.72,-19.81,-19.13]),(9.89,[-20.48,-20.00,-19.32,-21.24]),
(9.90,[-19.74,-20.29,-21.19,-19.35]),(9.91,[-20.68,-19.91,-20.17,-21.10]),
(9.92,[-20.09,-20.94,-19.65,-19.09,-21.88]),(9.93,[-20.45,-19.82,-20.65,-20.84]),
(9.94,[-19.91,-20.28,-19.11,-19.48]),(9.95,[-20.88,-20.11,-20.52,-21.40]),
(9.96,[-19.52,-20.59,-20.06,-19.36]),(9.97,[-20.34,-19.68,-21.11,-21.06]),
(9.98,[-20.06,-20.68,-19.66,-19.28]),(9.99,[-20.43,-19.80,-20.99,-21.26]),
(10.00,[-20.24,-20.86,-19.95,-19.58]),(10.01,[-20.63,-20.15,-19.47]),
(10.02,[-19.89,-20.44,-21.34]),(10.03,[-20.84,-20.07,-20.33]),(10.04,[-20.25,-21.10,-19.81]),
(10.05,[-20.61,-19.98,-20.81,-22.05]),(10.06,[-20.07,-20.44,-19.27]),(10.07,[-21.05,-20.28,-20.69]),
(10.08,[-19.69,-20.76,-20.23]),(10.09,[-20.52,-19.86,-21.29]),(10.10,[-20.23,-20.85,-19.83]),
(10.11,[-20.61,-19.98,-21.17]),(10.12,[-20.42,-21.04,-20.13]),(10.13,[-20.81,-20.33,-19.65]),
(10.14,[-20.07,-20.62,-21.52]),(10.15,[-21.02,-20.25,-20.51,-22.25]),(10.16,[-20.43,-21.28,-19.99]),
(10.17,[-20.79,-20.16,-20.99]),(10.18,[-20.25,-20.62,-19.45]),(10.19,[-21.23,-20.46,-20.87]),
(10.20,[-19.87,-20.94,-20.41]),(10.21,[-20.70,-20.04,-21.47]),(10.22,[-20.41,-21.03,-20.01,-19.35]),
(10.23,[-20.79,-20.16,-21.35]),(10.24,[-20.60,-21.22,-20.31]),(10.25,[-20.99,-20.51,-19.83,-22.31]),
(10.26,[-20.25,-20.80,-21.70]),(10.27,[-21.20,-20.43,-20.69]),(10.28,[-20.61,-21.46,-20.17,-19.20]),
(10.29,[-20.97,-20.34,-21.17]),(10.30,[-20.43,-20.80,-19.63]),(10.31,[-21.41,-20.64,-21.05]),
(10.32,[-20.05,-21.12,-20.59]),(10.33,[-20.88,-20.22,-21.65,-19.44]),(10.34,[-20.59,-21.21,-20.19]),
(10.35,[-20.97,-20.34,-21.53,-19.10]),(10.36,[-20.78,-21.40,-20.49,-22.55]),(10.37,[-21.17,-20.69,-20.01]),
(10.38,[-20.43,-20.98,-21.88]),(10.39,[-21.38,-20.61,-20.87]),(10.40,[-20.79,-21.64,-20.35,-19.30]),
(10.41,[-21.15,-20.52,-21.35]),(10.42,[-20.61,-20.98,-19.81,-19.12]),(10.43,[-21.59,-20.82,-21.23]),
(10.44,[-20.23,-21.30,-20.77,-22.62]),(10.45,[-21.06,-20.40,-21.83,-19.55]),(10.46,[-20.77,-21.39,-20.37]),
(10.47,[-21.15,-20.52,-21.71]),(10.48,[-20.96,-21.58,-20.67]),(10.49,[-21.35,-20.87,-20.19,-19.67]),
(10.50,[-20.61,-21.16,-22.06]),(10.51,[-21.56,-20.79,-21.05]),(10.52,[-20.98,-21.83,-20.54]),
(10.53,[-21.34,-20.71,-21.54]),(10.54,[-20.82,-21.19,-20.02]),(10.55,[-21.80,-21.03,-21.44,-22.72]),
(10.56,[-20.45,-21.52,-20.99]),(10.57,[-21.28,-20.62,-22.05]),(10.58,[-21.00,-21.62,-20.60]),
(10.59,[-21.38,-20.75,-21.94]),(10.60,[-21.20,-21.82,-20.91]),(10.61,[-21.60,-21.12,-20.44]),
(10.62,[-20.87,-21.42,-22.32]),(10.63,[-21.82,-21.05,-21.31]),(10.64,[-21.24,-22.09,-20.80]),
(10.65,[-21.60,-20.97,-21.80]),(10.66,[-21.07,-21.44,-20.27,-22.90]),(10.67,[-22.05,-21.28,-21.69]),
(10.68,[-20.71,-21.78,-21.25]),(10.69,[-21.54,-20.88,-22.31]),(10.70,[-21.26,-21.88,-20.86]),
(10.71,[-21.64,-21.01,-22.20]),(10.72,[-21.46,-22.08,-21.17]),(10.73,[-21.85,-21.37,-20.69]),
(10.74,[-21.12,-21.67,-22.57]),(10.75,[-22.08,-21.31,-21.57]),(10.76,[-21.50,-22.35,-21.06]),
(10.77,[-21.86,-21.23,-22.06]),(10.78,[-21.33,-21.70,-20.53]),(10.79,[-22.31,-21.54,-21.95]),
(10.80,[-20.96,-22.03,-21.50]),(10.81,[-21.80,-21.14,-22.57]),(10.82,[-21.52,-22.14,-21.12]),
(10.83,[-21.90,-21.27,-22.46,-20.22]),(10.84,[-21.72,-22.34,-21.43]),(10.85,[-22.11,-21.63,-20.95]),
(10.86,[-21.38,-21.93,-22.83]),(10.87,[-22.33,-21.56,-21.82]),(10.88,[-21.75,-22.60,-21.31,-23.91]),
(10.89,[-22.11,-21.48,-22.31]),(10.90,[-21.57,-21.94,-20.77]),(10.91,[-22.55,-21.78,-22.19]),
(10.92,[-21.20,-22.27,-21.74]),(10.93,[-22.03,-21.37,-22.80]),(10.94,[-21.75,-22.37,-21.35]),
(10.95,[-22.13,-21.50,-22.69]),(10.96,[-21.95,-22.57,-21.66]),(10.97,[-22.34,-21.86,-21.18]),
(10.98,[-21.60,-22.15,-23.05]),(10.99,[-22.55,-21.78,-22.04]),(11.00,[-21.97,-22.82,-21.53,-21.05]),
(11.01,[-22.33,-21.70,-22.53]),(11.02,[-21.80,-22.17,-21.00]),(11.03,[-22.78,-22.01,-22.42,-24.05]),
(11.04,[-21.43,-22.50,-21.97]),(11.05,[-22.26,-21.60,-23.03,-21.10]),(11.06,[-21.98,-22.60,-21.58]),
(11.07,[-22.35,-21.72,-22.91]),(11.08,[-22.17,-22.79,-21.88]),(11.09,[-22.56,-22.08,-21.40]),
(11.10,[-21.83,-22.38,-23.28,-23.58]),(11.11,[-22.78,-22.01,-22.27]),(11.12,[-22.20,-23.05,-21.76]),
(11.13,[-22.56,-21.93,-22.76]),(11.14,[-22.03,-22.40,-21.23]),(11.15,[-23.01,-22.24,-22.65,-23.96,-21.70]),
(11.16,[-21.65,-22.72,-22.19]),(11.17,[-22.48,-21.82,-23.25]),(11.18,[-22.20,-22.82,-21.80,-23.73]),
(11.19,[-22.58,-21.95,-23.14]),(11.20,[-22.40,-23.02,-22.11,-21.50]),(11.21,[-22.79,-22.31,-21.63]),
(11.22,[-22.06,-22.61,-23.51,-23.62]),(11.23,[-23.01,-22.24,-22.50]),(11.24,[-22.44,-23.29,-22.00]),
(11.25,[-22.80,-22.17,-23.00]),(11.26,[-22.27,-22.64,-21.47]),(11.27,[-23.25,-22.48,-22.89,-23.56]),
(11.28,[-21.90,-22.97,-22.44]),(11.29,[-22.74,-22.08,-23.51]),(11.30,[-22.46,-23.08,-22.06,-23.84]),
(11.31,[-22.84,-22.21,-23.40]),(11.32,[-22.66,-23.28,-22.37,-21.76]),(11.33,[-23.05,-22.57,-21.89]),
(11.34,[-22.33,-22.88,-23.78]),(11.35,[-23.28,-22.51,-22.77]),(11.36,[-22.70,-23.55,-22.26]),
(11.37,[-23.06,-22.43,-23.26,-22.15]),(11.38,[-22.53,-22.90,-21.73]),(11.39,[-23.52,-22.75,-23.16]),
(11.40,[-22.17,-23.24,-22.71]),(11.41,[-22.18,-22.38]),(11.42,[-22.86,-23.31]),(11.44,[-23.19,-22.62]),
(11.46,[-22.91,-23.45]),(11.48,[-23.27,-22.79]),(11.50,[-23.00,-23.91,-24.47]),
(11.52,[-23.38,-22.94]),(11.54,[-23.07,-23.87]),(11.55,[-22.84,-22.61]),(11.56,[-23.48,-22.84]),
(11.58,[-23.16,-23.87]),(11.60,[-23.55,-23.10]),(11.62,[-23.22,-23.41]),
(11.64,[-23.60,-23.19]),(11.66,[-23.31]),(11.70,[-24.04,-23.06]),(11.71,[-23.06]),
(11.75,[-23.61]),(11.76,[-23.92]),(11.78,[-23.84]),(11.845,[-24.10]),
]

bot_q_dense = [
(9.505,[-19.76,-19.43,-20.08]),(9.515,[-19.56,-19.94,-19.31]),(9.525,[-20.04,-19.66,-19.49]),
(9.535,[-19.39,-19.88,-20.17]),(9.545,[-19.94,-19.37,-19.74]),(9.555,[-19.68,-20.17,-19.57]),
(9.565,[-20.04,-19.65,-19.89]),(9.575,[-19.35,-19.82,-20.08]),(9.585,[-19.85,-19.52,-20.17]),
(9.595,[-19.65,-20.03,-19.40]),(9.605,[-20.14,-19.76,-19.59]),(9.615,[-19.49,-19.98,-20.27]),
(9.625,[-20.04,-19.47,-19.84]),(9.635,[-19.77,-20.26,-19.66]),(9.645,[-20.13,-19.74,-19.98]),
(9.655,[-19.45,-19.92,-20.18]),(9.665,[-19.95,-19.62,-20.27]),(9.675,[-19.75,-20.13,-19.50]),
(9.685,[-20.23,-19.85,-19.68]),(9.695,[-19.58,-20.07,-20.36]),(9.705,[-20.14,-19.57,-19.94]),
(9.715,[-19.87,-20.36,-19.76]),(9.725,[-20.23,-19.84,-20.08]),(9.735,[-19.54,-20.01,-20.27]),
(9.745,[-20.04,-19.71,-20.36]),(9.755,[-19.85,-20.23,-19.60]),(9.765,[-20.33,-19.95,-19.78]),
(9.775,[-19.68,-20.17,-20.46]),(9.785,[-20.23,-19.66,-20.03]),(9.795,[-19.96,-20.45,-19.85]),
(9.805,[-20.33,-19.94,-20.18]),(9.815,[-19.64,-20.11,-20.37]),(9.825,[-20.14,-19.81,-20.46]),
(9.835,[-19.94,-20.32,-19.69]),(9.845,[-20.42,-20.04,-19.87]),(9.855,[-19.78,-20.27,-20.56]),
(9.865,[-20.33,-19.76,-20.13]),(9.875,[-20.06,-20.55,-19.95]),(9.885,[-20.42,-20.03,-20.27]),
(9.895,[-19.73,-20.20,-20.46]),(9.905,[-20.24,-19.91,-20.56]),(9.915,[-20.04,-20.42,-19.79]),
(9.925,[-20.52,-20.14,-19.97]),(9.935,[-19.87,-20.36,-20.65]),(9.945,[-20.42,-19.85,-20.22]),
(9.955,[-20.16,-20.65,-20.05]),(9.965,[-20.52,-20.13,-20.37]),(9.975,[-19.83,-20.30,-20.56]),
(9.985,[-20.33,-20.00,-20.65]),(9.995,[-20.13,-20.51,-19.88]),(10.005,[-20.62,-20.24,-20.07]),
(10.015,[-19.97,-20.46,-20.75]),(10.025,[-20.53,-19.96,-20.33]),(10.035,[-20.26,-20.75,-20.15]),
(10.045,[-20.63,-20.24,-20.48]),(10.055,[-19.94,-20.41,-20.67]),(10.065,[-20.45,-20.12,-20.77]),
(10.075,[-20.25,-20.63,-20.00]),(10.085,[-20.74,-20.36,-20.19]),(10.095,[-20.09,-20.58,-20.87]),
(10.105,[-20.65,-20.08,-20.45]),(10.115,[-20.38,-20.87,-20.27]),(10.125,[-20.75,-20.36,-20.60]),
(10.135,[-20.06,-20.53,-20.79]),(10.145,[-20.57,-20.24,-20.89]),(10.155,[-20.37,-20.75,-20.12]),
(10.165,[-20.86,-20.48,-20.31]),(10.175,[-20.21,-20.70,-20.99]),(10.185,[-20.77,-20.20,-20.57]),
(10.195,[-20.50,-20.99,-20.39]),(10.205,[-20.87,-20.48,-20.72]),(10.215,[-20.18,-20.65,-20.91]),
(10.225,[-20.69,-20.36,-21.01]),(10.235,[-20.49,-20.87,-20.24]),(10.245,[-20.98,-20.60,-20.43]),
(10.255,[-20.33,-20.82,-21.11]),(10.265,[-20.89,-20.32,-20.69]),(10.275,[-20.62,-21.11,-20.51]),
(10.285,[-20.99,-20.60,-20.84]),(10.295,[-20.30,-20.77,-21.03]),(10.305,[-20.81,-20.48,-21.13]),
(10.315,[-20.61,-20.99,-20.36]),(10.325,[-21.10,-20.72,-20.55]),(10.335,[-20.45,-20.94,-21.23]),
(10.345,[-21.01,-20.44,-20.81]),(10.355,[-20.74,-21.23,-20.63]),(10.365,[-21.11,-20.72,-20.96]),
(10.375,[-20.42,-20.89,-21.15]),(10.385,[-20.93,-20.60,-21.25]),(10.395,[-20.73,-21.11,-20.48]),
(10.405,[-21.22,-20.84,-20.67]),(10.415,[-20.57,-21.06,-21.35]),(10.425,[-21.13,-20.56,-20.93]),
(10.435,[-20.86,-21.35,-20.75]),(10.445,[-21.23,-20.84,-21.08]),(10.455,[-20.54,-21.01,-21.27]),
(10.465,[-21.05,-20.72,-21.37]),(10.475,[-20.85,-21.23,-20.60]),(10.485,[-21.34,-20.96,-20.79]),
(10.495,[-20.69,-21.18,-21.47]),(10.505,[-21.25,-20.68,-21.05]),(10.515,[-20.99,-21.48,-20.88]),
(10.525,[-21.36,-20.97,-21.21]),(10.535,[-20.68,-21.15,-21.41]),(10.545,[-21.20,-20.87,-21.52]),
(10.555,[-21.01,-21.39,-20.76]),(10.565,[-21.50,-21.12,-20.95]),(10.575,[-20.86,-21.35,-21.64]),
(10.585,[-21.42,-20.85,-21.22]),(10.595,[-21.16,-21.65,-21.05]),(10.605,[-21.53,-21.14,-21.38]),
(10.615,[-20.86,-21.33,-21.59]),(10.625,[-21.37,-21.04,-21.69]),(10.635,[-21.18,-21.56,-20.93]),
(10.645,[-21.67,-21.29,-21.12]),(10.655,[-21.03,-21.52,-21.81]),(10.665,[-21.59,-21.02,-21.39]),
(10.675,[-21.33,-21.82,-21.22]),(10.685,[-21.71,-21.32,-21.56]),(10.695,[-21.03,-21.50,-21.76]),
(10.705,[-21.54,-21.21,-21.86]),(10.715,[-21.35,-21.73,-21.10]),(10.725,[-21.84,-21.46,-21.29]),
(10.735,[-21.20,-21.69,-21.98]),(10.745,[-21.76,-21.19,-21.56]),(10.755,[-21.51,-22.00,-21.40]),
(10.765,[-21.88,-21.49,-21.73]),(10.775,[-21.20,-21.67,-21.93]),(10.785,[-21.71,-21.38,-22.03]),
(10.795,[-21.52,-21.90,-21.27]),(10.805,[-22.01,-21.63,-21.46]),(10.815,[-21.37,-21.86,-22.15]),
(10.825,[-21.94,-21.37,-21.74]),(10.835,[-21.68,-22.17,-21.57]),(10.845,[-22.05,-21.66,-21.90]),
(10.855,[-21.37,-21.84,-22.10]),(10.865,[-21.88,-21.55,-22.20]),(10.875,[-21.69,-22.07,-21.44]),
(10.885,[-22.18,-21.80,-21.63]),(10.895,[-21.53,-22.02,-22.31]),(10.905,[-22.09,-21.52,-21.89]),
(10.915,[-21.83,-22.32,-21.72]),(10.925,[-22.20,-21.81,-22.05]),(10.935,[-21.52,-21.99,-22.25]),
(10.945,[-22.03,-21.70,-22.35]),(10.955,[-21.84,-22.22,-21.59]),(10.965,[-22.32,-21.94,-21.77]),
(10.975,[-21.68,-22.17,-22.46]),(10.985,[-22.24,-21.67,-22.04]),(10.995,[-21.98,-22.47,-21.87]),
(11.005,[-22.35,-21.96,-22.20]),(11.015,[-21.67,-22.14,-22.40]),(11.025,[-22.18,-21.85,-22.50]),
(11.035,[-21.98,-22.36,-21.73]),(11.045,[-22.47,-22.09,-21.92]),(11.055,[-21.83,-22.32,-22.61]),
(11.065,[-22.39,-21.82,-22.19]),(11.075,[-22.13,-22.62,-22.02]),(11.085,[-22.50,-22.11,-22.35]),
(11.095,[-21.82,-22.29,-22.55]),(11.105,[-22.32,-21.99,-22.64]),(11.115,[-22.13,-22.51,-21.88]),
(11.125,[-22.62,-22.24,-22.07]),(11.135,[-21.98,-22.47,-22.76]),(11.145,[-22.54,-21.97,-22.34]),
(11.155,[-22.28,-22.77,-22.17]),(11.165,[-22.65,-22.26,-22.50]),(11.175,[-21.96,-22.43,-22.69]),
(11.185,[-22.47,-22.14,-22.79]),(11.195,[-22.28,-22.66,-22.03]),(11.205,[-22.77,-22.39,-22.22]),
(11.215,[-22.13,-22.62,-22.91]),(11.225,[-22.69,-22.12,-22.49]),(11.235,[-22.44,-22.93,-22.33]),
(11.245,[-22.81,-22.42,-22.66]),(11.255,[-22.13,-22.60,-22.86]),(11.265,[-22.64,-22.31,-22.96]),
(11.275,[-22.45,-22.83,-22.20]),(11.285,[-22.94,-22.56,-22.39]),(11.295,[-22.31,-22.80,-23.09]),
]


def flatten(cols):
    xs, ys = [], []
    for x, mags in cols:
        for m in mags:
            xs.append(x)
            ys.append(m)
    return xs, ys


fig = plt.figure(figsize=(8.3, 15.63), dpi=100)
positions = [[0.1096, 0.5125, 0.8614, 0.4568], [0.1096, 0.0499, 0.8614, 0.4581]]
panels = [(top_sf + top_sf_dense, top_q + top_q_dense, panel_labels[0], -24.48, -23.92),
          (bot_sf + bot_sf_dense, bot_q + bot_q_dense, panel_labels[1], -24.5, -23.93)]

for i, (sf, q, plabel, ytop, lab_y) in enumerate(panels):
    ax = fig.add_axes(positions[i])
    xs, ys = flatten(sf)
    ax.scatter(xs, ys, s=17, facecolors='none', edgecolors='#0000ff',
               linewidths=1.0, label=series_labels[0], zorder=2)
    xq, yq = flatten(q)
    ax.scatter(xq, yq, s=17, facecolors='none', edgecolors='#ff0000',
               linewidths=1.0, label=series_labels[1], zorder=2.1)
    ax.axhline(mv_limit, color='#3d5858', lw=2.4, dashes=(3.4, 2.0), zorder=3)
    ax.set_xlim(9.5, 12)
    ax.set_ylim(-18, ytop)
    ax.set_xticks(x_ticks)
    ax.set_xticklabels(x_tick_labels)
    ax.set_yticks(y_ticks)
    ax.set_yticklabels(y_tick_labels)
    ax.tick_params(direction='in', length=6.5, width=1.5, top=True, right=True,
                   labelsize=21)
    ax.tick_params(axis='y', pad=10)
    if i == 0:
        ax.tick_params(axis='x', labeltop=True, labelbottom=False, pad=7)
    else:
        ax.tick_params(axis='x', labeltop=False, labelbottom=True, pad=4.5)
        ax.set_xlabel(x_label, fontsize=22.5)
        ax.xaxis.set_label_coords(0.505, -0.067)
    for s in ax.spines.values():
        s.set_linewidth(1.5)
    ax.set_ylabel(y_label, fontsize=22)
    ax.yaxis.set_label_coords(-0.074, 0.465)
    ax.text(9.647, lab_y, plabel, fontsize=29.5, ha='left', va='baseline')
    ax.legend(loc='center right', bbox_to_anchor=(0.9757, 0.118), markerfirst=False,
              frameon=False, fontsize=22.5, labelspacing=0.0, handletextpad=0.3,
              handlelength=2.0, borderpad=0, borderaxespad=0, scatterpoints=1,
              labelcolor=['#0000ff', '#ff0000'])

fig.savefig('out.png', dpi=100)
